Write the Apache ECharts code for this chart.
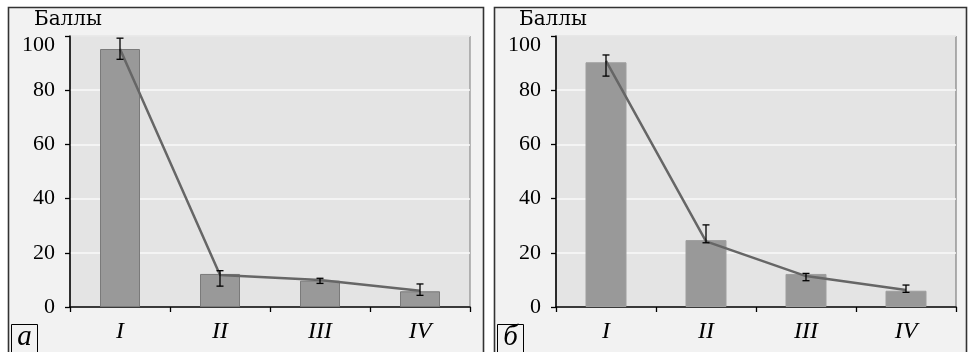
<!DOCTYPE html>
<html><head><meta charset="utf-8">
<script src="https://cdn.jsdelivr.net/npm/echarts@6/dist/echarts.min.js"></script>
<style>html,body{margin:0;padding:0;background:#fff}#c{width:973px;height:352px}</style>
</head><body><div id="c"></div>
<script>
const categories = ['I', 'II', 'III', 'IV'];
const yTicks = [0, 20, 40, 60, 80, 100];
const yName = 'Баллы';
const panelLabels = ['а', 'б'];
// panel а
const barsA = [95.2, 12.2, 9.7, 5.8];
const lineA = [95.2, 11.8, 10.0, 6.0];
const errLowA = [91.4, 7.7, 8.7, 4.3];
const errHighA = [99.2, 13.4, 10.6, 8.5];
// panel б
const barsB = [90.3, 24.7, 12.2, 6.0];
const lineB = [90.8, 24.2, 11.4, 6.3];
const errLowB = [85.2, 23.7, 9.7, 5.4];
const errHighB = [93.0, 30.3, 12.4, 8.1];

const serif = 'Liberation Serif';
const chart = echarts.init(document.getElementById('c'), null, {renderer: 'canvas'});

function errData(lo, hi) { return categories.map((c, i) => [i, lo[i], hi[i]]); }
function errRender(params, api) {
  const x = api.value(0), lo = api.value(1), hi = api.value(2);
  const p1 = api.coord([x, hi]), p2 = api.coord([x, lo]);
  const w = 3.5;
  const st = {stroke: '#000', lineWidth: 1.3};
  return {type: 'group', children: [
    {type: 'line', shape: {x1: p1[0], y1: p1[1], x2: p2[0], y2: p2[1]}, style: st},
    {type: 'line', shape: {x1: p1[0] - w, y1: p1[1], x2: p1[0] + w, y2: p1[1]}, style: st},
    {type: 'line', shape: {x1: p2[0] - w, y1: p2[1], x2: p2[0] + w, y2: p2[1]}, style: st}
  ]};
}
function xAx(gi) {
  return {type: 'category', gridIndex: gi, data: categories,
    axisLine: {lineStyle: {color: '#000', width: 1.5}},
    axisTick: {show: true, length: 5, lineStyle: {color: '#000', width: 1.3}},
    axisLabel: {fontFamily: serif, fontStyle: 'italic', fontSize: 24, color: '#000', margin: 13}};
}
const topTick = yTicks[yTicks.length - 1];
function yAx(gi) {
  return {type: 'value', gridIndex: gi, min: yTicks[0], max: topTick, interval: 20,
    axisLine: {show: true, lineStyle: {color: '#000', width: 1.5}},
    axisTick: {show: true, length: 5, lineStyle: {color: '#000', width: 1.3}},
    splitLine: {show: true, lineStyle: {color: '#fafafa', width: 1.5}},
    axisLabel: {fontFamily: serif, fontSize: 22, color: '#000', margin: 15,
      formatter: v => v === topTick ? '{t|' + v + '}' : String(v),
      rich: {t: {fontFamily: serif, fontSize: 22, color: '#000', padding: [18, 0, 0, 0]}}}};
}
const grids = [
  {left: 70, top: 36, width: 400, height: 271, show: true, backgroundColor: '#e4e4e4', borderColor: '#7a7a7a', borderWidth: 1},
  {left: 556, top: 36, width: 400, height: 271, show: true, backgroundColor: '#e4e4e4', borderColor: '#6a6a6a', borderWidth: 1}
];
const frameStyle = {fill: '#f2f2f2', stroke: '#333', lineWidth: 1.6};
const nameFont = '20px "DejaVu Serif"';
chart.setOption({
  animation: false,
  backgroundColor: '#fff',
  grid: grids,
  xAxis: [xAx(0), xAx(1)],
  yAxis: [yAx(0), yAx(1)],
  graphic: [
    {type: 'rect', z: -10, shape: {x: 8.5, y: 7.5, width: 475, height: 360}, style: frameStyle},
    {type: 'rect', z: -10, shape: {x: 494.5, y: 7.5, width: 472, height: 360}, style: frameStyle},
    {type: 'text', left: 34, top: 10, style: {text: yName, font: nameFont, fill: '#000'}},
    {type: 'text', left: 519, top: 10, style: {text: yName, font: nameFont, fill: '#000'}},
    {type: 'rect', shape: {x: 11.5, y: 324.5, width: 26, height: 30}, style: {fill: '#f2f2f2', stroke: '#000', lineWidth: 1}},
    {type: 'text', x: 24.5, y: 337, style: {text: panelLabels[0], font: 'italic 29px "Liberation Serif"', fill: '#000', align: 'center', verticalAlign: 'middle'}},
    {type: 'rect', shape: {x: 497.5, y: 324.5, width: 26, height: 30}, style: {fill: '#f2f2f2', stroke: '#000', lineWidth: 1}},
    {type: 'text', x: 510.5, y: 337, style: {text: panelLabels[1], font: 'italic 29px "Liberation Serif"', fill: '#000', align: 'center', verticalAlign: 'middle'}}
  ],
  series: [
    {type: 'bar', xAxisIndex: 0, yAxisIndex: 0, data: barsA, barWidth: 40,
      itemStyle: {color: '#999999', borderColor: '#7a7a7a', borderWidth: 1}},
    {type: 'line', xAxisIndex: 0, yAxisIndex: 0, data: lineA, showSymbol: false,
      lineStyle: {color: '#666666', width: 2.5}, z: 3},
    {type: 'custom', xAxisIndex: 0, yAxisIndex: 0, data: errData(errLowA, errHighA), renderItem: errRender, z: 4},
    {type: 'bar', xAxisIndex: 1, yAxisIndex: 1, data: barsB, barWidth: 41,
      itemStyle: {color: '#999999', borderColor: '#9e9e9e', borderWidth: 1}},
    {type: 'line', xAxisIndex: 1, yAxisIndex: 1, data: lineB, showSymbol: false,
      lineStyle: {color: '#666666', width: 2.5}, z: 3},
    {type: 'custom', xAxisIndex: 1, yAxisIndex: 1, data: errData(errLowB, errHighB), renderItem: errRender, z: 4}
  ]
});
</script></body></html>
